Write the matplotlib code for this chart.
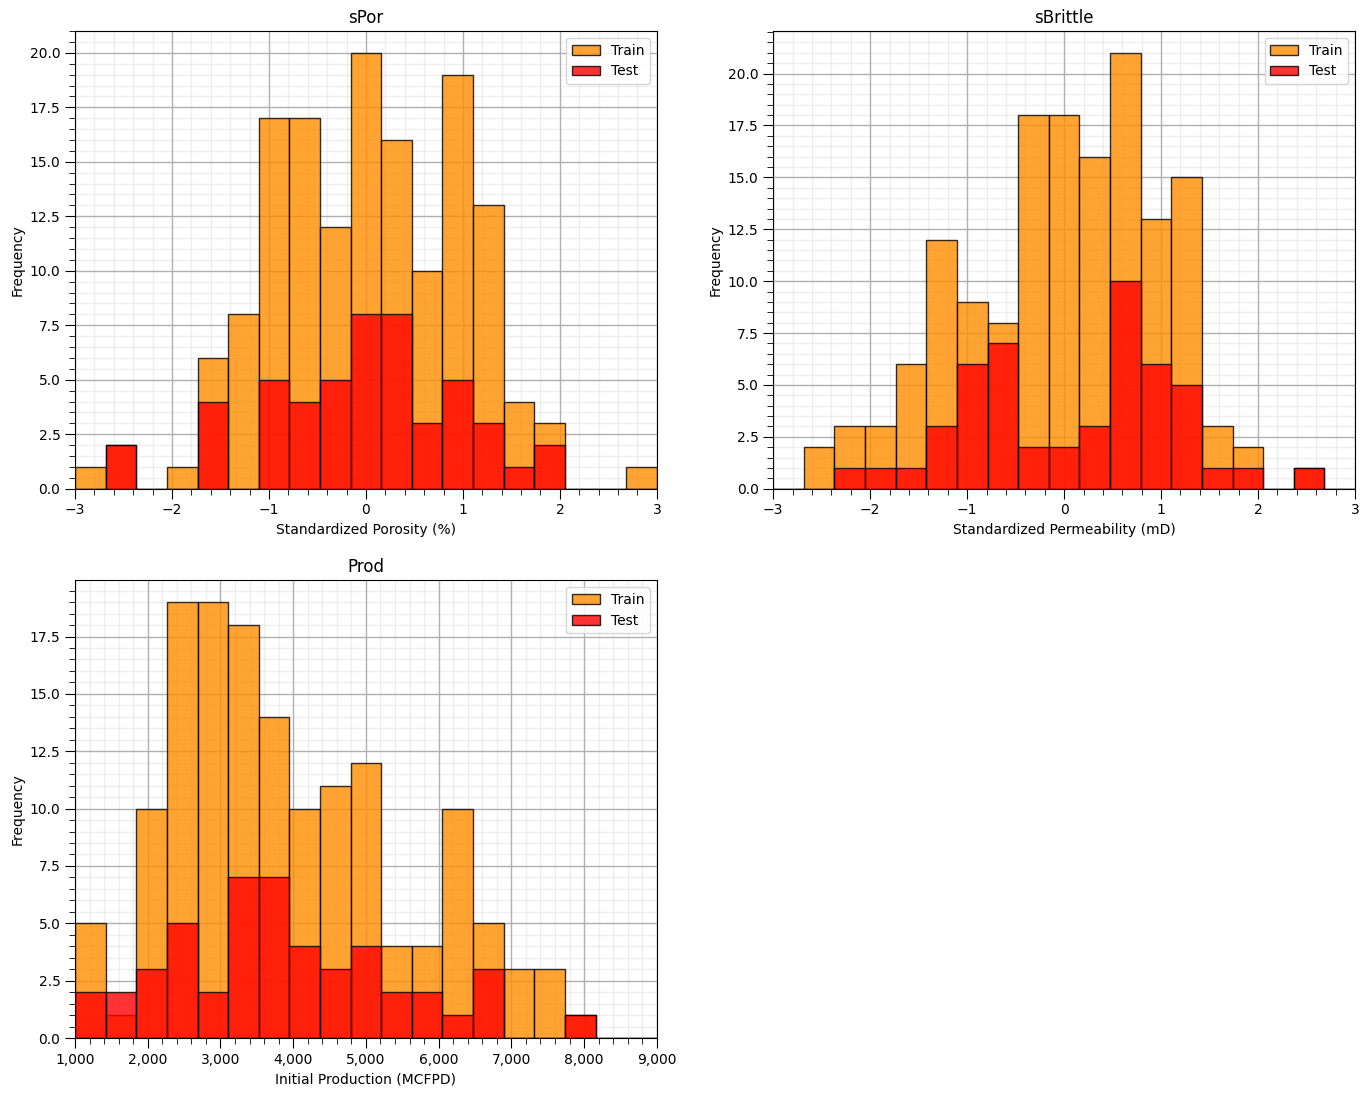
import numpy as np
import matplotlib
matplotlib.use("Agg")
import matplotlib.pyplot as plt
from matplotlib.ticker import AutoMinorLocator, FuncFormatter

# bin edges (19 bins each)
por_edges = np.linspace(-3, 3, 20)
brit_edges = np.linspace(-3, 3, 20)
prod_edges = np.linspace(1000, 9000, 20)

# counts per bin
por_train = [1, 2, 0, 1, 6, 8, 17, 17, 12, 20, 16, 10, 19, 13, 4, 3, 0, 0, 1]
por_test = [0, 2, 0, 0, 4, 0, 5, 4, 5, 8, 8, 3, 5, 3, 1, 2, 0, 0, 0]

brit_train = [0, 2, 3, 3, 6, 12, 9, 8, 18, 18, 16, 21, 13, 15, 3, 2, 0, 1, 0]
brit_test = [0, 0, 1, 1, 1, 3, 6, 7, 2, 2, 3, 10, 6, 5, 1, 1, 0, 1, 0]

prod_train = [5, 1, 10, 19, 19, 18, 14, 10, 11, 12, 4, 4, 10, 5, 3, 3, 1, 0, 0]
prod_test = [2, 2, 3, 5, 2, 7, 7, 4, 3, 4, 2, 2, 1, 3, 0, 0, 1, 0, 0]

panels = [
    ("sPor", "Standardized Porosity (%)", por_edges, por_train, por_test),
    ("sBrittle", "Standardized Permeability (mD)", brit_edges, brit_train, brit_test),
    ("Prod", "Initial Production (MCFPD)", prod_edges, prod_train, prod_test),
]

fig, axes = plt.subplots(2, 2, figsize=(13.69, 10.96), dpi=100)
plt.subplots_adjust(left=0.0548, right=0.9898, bottom=0.0529, top=0.9717,
                    wspace=0.2, hspace=0.2)

for ax, (title, xlabel, edges, train, test) in zip(axes.flat, panels):
    centers = 0.5 * (edges[:-1] + edges[1:])
    ax.hist(centers, bins=edges, weights=train, color="darkorange", alpha=0.8,
            edgecolor="black", label="Train")
    ax.hist(centers, bins=edges, weights=test, color="red", alpha=0.8,
            edgecolor="black", label="Test")
    ax.set_xlim(edges[0], edges[-1])
    ax.set_title(title)
    ax.set_xlabel(xlabel)
    ax.set_ylabel("Frequency")
    ax.xaxis.set_minor_locator(AutoMinorLocator())
    ax.yaxis.set_minor_locator(AutoMinorLocator())
    ax.grid(which="major", color="#b0b0b0", linewidth=1.0)
    ax.grid(which="minor", color="#b0b0b0", linewidth=1.0, alpha=0.2)
    ax.set_axisbelow(True)
    ax.tick_params(which="major", length=7)
    ax.tick_params(which="minor", length=4.5)
    ax.legend(loc="upper right")

axes[1, 0].xaxis.set_major_formatter(FuncFormatter(lambda v, p: "{:,.0f}".format(v)))
axes[1, 1].axis("off")

fig.savefig("out.png", dpi=100)
